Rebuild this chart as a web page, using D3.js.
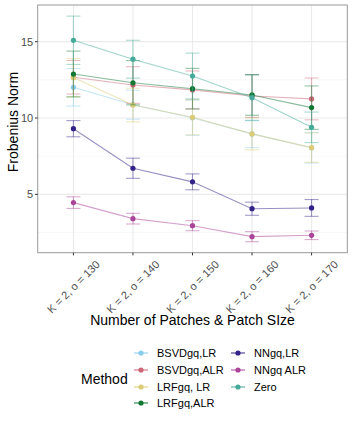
<!DOCTYPE html>
<html lang="en">
<head>
    <meta charset="UTF-8">
    <style>
        body { margin: 0; background: #fff; }
        text { font-family: "Liberation Sans", Arial, sans-serif; }
    </style>
    <script src="https://d3js.org/d3.v7.min.js"></script>
</head>
<body>
    <div id="chart"></div>
    <script>
        // categories on the x axis
        var categories = ["K = 2, o = 130", "K = 2, o = 140", "K = 2, o = 150", "K = 2, o = 160", "K = 2, o = 170"];

        var methods = ["BSVDgq,LR", "BSVDgq,ALR", "LRFgq, LR", "LRFgq,ALR", "NNgq,LR", "NNgq ALR", "Zero"];
        var colors = ["#88CCEE", "#CC6677", "#DDCC77", "#117733", "#332288", "#AA4499", "#44AA99"];

        // mean values per method
        var bsvdLR = [12.01, 10.87, 10.02, 8.96, 8.05];
        var bsvdALR = [12.67, 12.16, 11.84, 11.44, 11.25];
        var lrfLR = [12.65, 10.85, 10.05, 8.96, 8.06];
        var lrfALR = [12.88, 12.31, 11.92, 11.51, 10.68];
        var nnLR = [9.30, 6.71, 5.82, 4.06, 4.11];
        var nnALR = [4.46, 3.41, 2.95, 2.23, 2.32];
        var zero = [15.09, 13.85, 12.75, 11.33, 9.39];

        // error half-widths
        var bsvdLRErr = [1.23, 0.95, 1.15, 0.9, 1.0];
        var bsvdALRErr = [1.1, 1.2, 1.24, 1.4, 1.37];
        var lrfLRErr = [1.25, 1.1, 1.15, 1.05, 0.96];
        var lrfALRErr = [1.5, 1.45, 1.33, 1.33, 1.42];
        var nnLRErr = [0.53, 0.66, 0.52, 0.43, 0.55];
        var nnALRErr = [0.38, 0.35, 0.33, 0.33, 0.28];
        var zeroErr = [1.58, 1.24, 1.5, 1.5, 1.0];

        var yTicks = [5, 10, 15];
        var yMinor = [2.5, 7.5, 12.5];

        var means = [bsvdLR, bsvdALR, lrfLR, lrfALR, nnLR, nnALR, zero];
        var errs = [bsvdLRErr, bsvdALRErr, lrfLRErr, lrfALRErr, nnLRErr, nnALRErr, zeroErr];

        var series = methods.map(function (m, i) {
            return {
                name: m,
                color: colors[i],
                values: categories.map(function (c, j) {
                    return { cat: c, v: means[i][j], e: errs[i][j] };
                })
            };
        });

        var W = 353, H = 423;
        var margin = { top: 5, right: 5.7, bottom: 170.3, left: 37.7 };
        var width = W - margin.left - margin.right,
            height = H - margin.top - margin.bottom;

        var svg = d3.select("#chart").append("svg")
            .attr("width", W)
            .attr("height", H);

        var g = svg.append("g")
            .attr("transform", "translate(" + margin.left + "," + margin.top + ")");

        var x = d3.scalePoint()
            .domain(categories)
            .range([0, width])
            .padding(0.6);

        var y = d3.scaleLinear()
            .domain([1.18, 17.40])
            .range([height, 0]);

        // grid
        g.selectAll(".minor").data(yMinor).enter().append("line")
            .attr("x1", 0).attr("x2", width)
            .attr("y1", function (d) { return y(d); })
            .attr("y2", function (d) { return y(d); })
            .attr("stroke", "#F2F2F2").attr("stroke-width", 0.6);

        g.selectAll(".major").data(yTicks).enter().append("line")
            .attr("x1", 0).attr("x2", width)
            .attr("y1", function (d) { return y(d); })
            .attr("y2", function (d) { return y(d); })
            .attr("stroke", "#EBEBEB").attr("stroke-width", 1.1);

        g.selectAll(".vmajor").data(categories).enter().append("line")
            .attr("x1", function (d) { return x(d); })
            .attr("x2", function (d) { return x(d); })
            .attr("y1", 0).attr("y2", height)
            .attr("stroke", "#EBEBEB").attr("stroke-width", 1.1);

        var line = d3.line()
            .x(function (d) { return x(d.cat); })
            .y(function (d) { return y(d.v); });

        var groups = g.selectAll(".series").data(series).enter().append("g");

        groups.append("path")
            .attr("d", function (d) { return line(d.values); })
            .attr("fill", "none")
            .attr("stroke", function (d) { return d.color; })
            .attr("stroke-opacity", 0.5)
            .attr("stroke-width", 1.1);

        var capW = 7;
        groups.each(function (s) {
            var sg = d3.select(this);
            var bars = sg.selectAll(".err").data(s.values).enter().append("g")
                .attr("stroke", s.color)
                .attr("stroke-opacity", 0.45)
                .attr("stroke-width", 1.1);
            bars.append("line")
                .attr("x1", function (d) { return x(d.cat); })
                .attr("x2", function (d) { return x(d.cat); })
                .attr("y1", function (d) { return y(d.v + d.e); })
                .attr("y2", function (d) { return y(d.v - d.e); });
            bars.append("line")
                .attr("x1", function (d) { return x(d.cat) - capW; })
                .attr("x2", function (d) { return x(d.cat) + capW; })
                .attr("y1", function (d) { return y(d.v + d.e); })
                .attr("y2", function (d) { return y(d.v + d.e); });
            bars.append("line")
                .attr("x1", function (d) { return x(d.cat) - capW; })
                .attr("x2", function (d) { return x(d.cat) + capW; })
                .attr("y1", function (d) { return y(d.v - d.e); })
                .attr("y2", function (d) { return y(d.v - d.e); });
            sg.selectAll(".pt").data(s.values).enter().append("circle")
                .attr("cx", function (d) { return x(d.cat); })
                .attr("cy", function (d) { return y(d.v); })
                .attr("r", 2.6)
                .attr("fill", s.color);
        });

        // panel border
        g.append("rect")
            .attr("x", 0).attr("y", 0)
            .attr("width", width).attr("height", height)
            .attr("fill", "none")
            .attr("stroke", "#999")
            .attr("stroke-width", 1);

        // y axis
        var yAxis = g.append("g");
        yTicks.forEach(function (t) {
            yAxis.append("line")
                .attr("x1", -2.7).attr("x2", 0)
                .attr("y1", y(t)).attr("y2", y(t))
                .attr("stroke", "#333").attr("stroke-width", 1);
            yAxis.append("text")
                .attr("x", -4.5).attr("y", y(t))
                .attr("text-anchor", "end")
                .attr("dominant-baseline", "central")
                .attr("font-size", 11)
                .attr("fill", "#4D4D4D")
                .text(t);
        });

        // x axis
        var xAxis = g.append("g");
        categories.forEach(function (c) {
            xAxis.append("line")
                .attr("x1", x(c)).attr("x2", x(c))
                .attr("y1", height).attr("y2", height + 2.7)
                .attr("stroke", "#333").attr("stroke-width", 1);
            xAxis.append("text")
                .attr("transform", "translate(" + x(c) + "," + (height + 34) + ")rotate(-45)")
                .attr("text-anchor", "middle")
                .attr("dominant-baseline", "central")
                .attr("font-size", 11)
                .attr("fill", "#4D4D4D")
                .text(c);
        });

        svg.append("text")
            .attr("x", margin.left + width / 2)
            .attr("y", 325)
            .attr("text-anchor", "middle")
            .attr("font-size", 14)
            .attr("fill", "#000")
            .text("Number of Patches & Patch SIze");

        svg.append("text")
            .attr("transform", "translate(18," + 122 + ")rotate(-90)")
            .attr("text-anchor", "middle")
            .attr("font-size", 14)
            .attr("fill", "#000")
            .text("Frobenius Norm");

        // legend
        var legend = svg.append("g");
        legend.append("text")
            .attr("x", 81).attr("y", 379)
            .attr("dominant-baseline", "central")
            .attr("font-size", 14)
            .text("Method");

        var rowY = [353, 370, 387, 403];
        var colX = [141, 238];
        series.forEach(function (s, i) {
            var col = i < 4 ? 0 : 1;
            var row = i < 4 ? i : i - 4;
            var cx = colX[col], cy = rowY[row];
            legend.append("line")
                .attr("x1", cx - 7).attr("x2", cx + 7)
                .attr("y1", cy).attr("y2", cy)
                .attr("stroke", s.color)
                .attr("stroke-opacity", 0.5)
                .attr("stroke-width", 2);
            legend.append("circle")
                .attr("cx", cx).attr("cy", cy).attr("r", 2.6)
                .attr("fill", s.color);
            legend.append("text")
                .attr("x", cx + 16).attr("y", cy)
                .attr("dominant-baseline", "central")
                .attr("font-size", 11)
                .attr("fill", "#000")
                .text(s.name);
        });
    </script>
</body>
</html>
